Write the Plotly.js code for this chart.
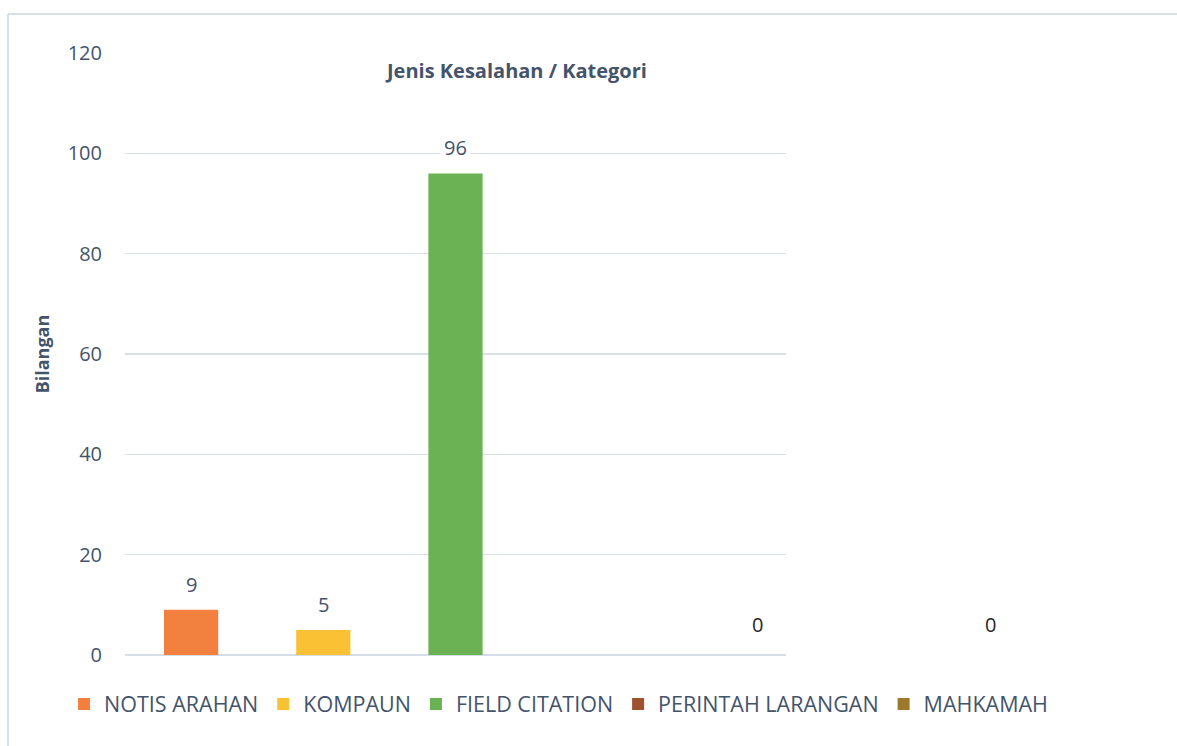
<!DOCTYPE html>
<html>
<head>
<meta charset="utf-8">
<script src="https://cdn.plot.ly/plotly-3.0.1.min.js"></script>
<style>html,body{margin:0;padding:0;background:#fff;}#chart{width:1177px;height:746px;}</style>
</head>
<body>
<div id="chart"></div>
<script>
const categories = ["NOTIS ARAHAN", "KOMPAUN", "FIELD CITATION", "PERINTAH LARANGAN", "MAHKAMAH"];
const values = [9, 5, 96, 0, 0];
const colors = ["#F2803F", "#FBC135", "#6AB253", "#A0502D", "#9C7A2C"];
const yTicks = [0, 20, 40, 60, 80, 100, 120];
const chartTitle = "Jenis Kesalahan / Kategori";
const yTitle = "Bilangan";
// paper-x positions of the stray zero labels (as they appear in the original)
const zeroLabelX = {"PERINTAH LARANGAN": 0.968, "MAHKAMAH": 1.321};

const font = "Open Sans, Noto Sans, sans-serif";
const txt = "#44546A";

const traces = categories.map((c, i) => ({
  type: "bar",
  name: c,
  x: [c],
  y: [values[i]],
  width: 0.41,
  marker: {color: colors[i]},
  hoverinfo: "skip"
}));

const annotations = [];
categories.forEach((c, i) => {
  if (values[i] > 0) {
    annotations.push({
      x: c, y: values[i], xref: "x", yref: "y",
      text: String(values[i]), showarrow: false,
      yanchor: "bottom", yshift: 8,
      bgcolor: "#ffffff", borderpad: 3,
      font: {family: font, size: 20, color: txt}
    });
  } else {
    annotations.push({
      x: zeroLabelX[c], y: 6, xref: "paper", yref: "y",
      text: String(values[i]), showarrow: false,
      font: {family: font, size: 20, color: "#262626"}
    });
  }
});
annotations.push({
  x: 0.592, y: 1.0, xref: "paper", yref: "paper", yanchor: "top", yshift: -2,
  text: "<b>" + chartTitle + "</b>", showarrow: false,
  font: {family: font, size: 20, color: txt}
});

const layout = {
  width: 1177, height: 746,
  margin: {l: 125, r: 391, t: 53, b: 91},
  paper_bgcolor: "#ffffff", plot_bgcolor: "#ffffff",
  barmode: "overlay",
  showlegend: true,
  font: {family: font, color: txt},
  xaxis: {
    type: "category", categoryorder: "array", categoryarray: categories,
    range: [-0.5, 4.5], showticklabels: false, showgrid: false,
    zeroline: false, showline: false, ticks: ""
  },
  yaxis: {
    range: [0, 120], tickvals: yTicks, ticktext: yTicks.map(String),
    showgrid: true, gridcolor: "#D9DFE7", gridwidth: 1.5,
    zeroline: true, zerolinecolor: "#D5DDE6", zerolinewidth: 2.5,
    showline: false, ticks: "", ticklabelstandoff: 22,
    tickfont: {family: font, size: 20, color: txt},
    title: {text: "<b>" + yTitle + "</b>", font: {family: font, size: 18, color: txt}, standoff: 13}
  },
  legend: {
    orientation: "h",
    x: 1.404, xanchor: "right", y: -0.0814, yanchor: "middle",
    font: {family: font, size: 21.5, color: txt},
    itemwidth: 30, tracegroupgap: 0, traceorder: "normal"
  },
  annotations: annotations,
  shapes: [
    {type: "line", xref: "paper", yref: "paper", x0: -0.177, x1: 1.7, y0: 1.0648, y1: 1.0648, line: {color: "#D9DFE7", width: 2}},
    {type: "line", xref: "paper", yref: "paper", x0: -0.177, x1: -0.177, y0: 1.0648, y1: -0.3, line: {color: "#D9DFE7", width: 2}}
  ]
};

Plotly.newPlot("chart", traces, layout, {displayModeBar: false, staticPlot: true});
</script>
</body>
</html>
